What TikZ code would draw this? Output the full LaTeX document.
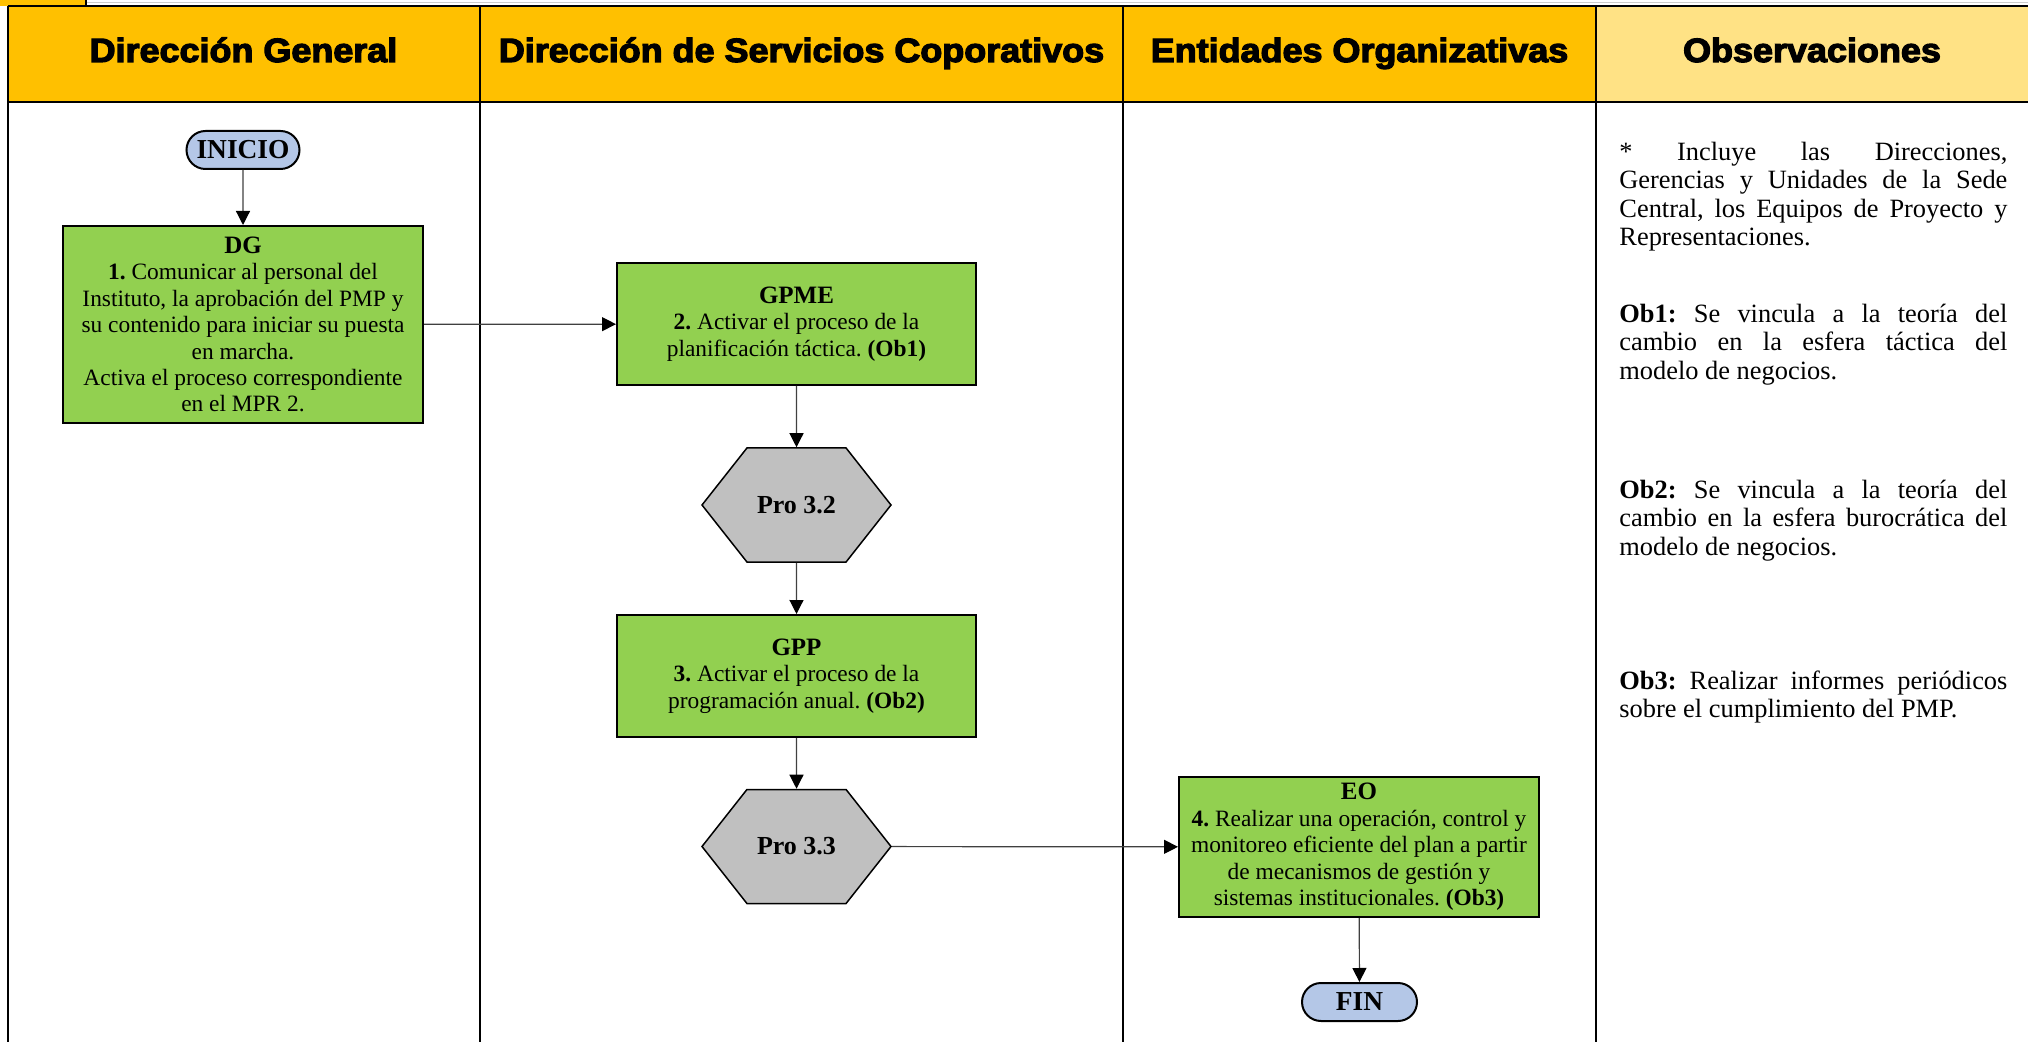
\documentclass[tikz,border=0pt]{standalone}
\usepackage{fontspec}
\setmainfont{Liberation Serif}
\newfontfamily\hdrfont{Liberation Sans}[BoldFeatures={FakeBold=3.5}]
\usetikzlibrary{arrows.meta,shapes.symbols,shapes.misc}
\definecolor{hdrgold}{HTML}{FFC000}
\definecolor{hdrpale}{HTML}{FFE285}
\definecolor{boxgreen}{HTML}{92D050}
\definecolor{pillblue}{HTML}{B4C7E7}
\definecolor{hexgray}{HTML}{C0C0C0}
\definecolor{linkgray}{HTML}{404040}
\frenchspacing
\begin{document}
\begin{tikzpicture}[x=0.5pt,y=-0.5pt,
 hdrtext/.style={font=\hdrfont\bfseries\fontsize{16.8}{20}\selectfont, inner sep=0pt, anchor=base},
 taskbox/.style={draw=black, line width=1pt, fill=boxgreen, align=center, font=\fontsize{11.7}{13.2}\selectfont, inner sep=2pt},
 pill/.style={rounded rectangle, draw=black, line width=1pt, fill=pillblue, font=\bfseries\fontsize{13.7}{15}\selectfont, minimum width=56.5pt, minimum height=19pt, inner sep=0pt},
 hexnode/.style={signal, signal to=east and west, signal pointer angle=103.5, draw=black, line width=0.75pt, fill=hexgray, minimum width=94.5pt, minimum height=57pt, font=\bfseries\fontsize{13}{15}\selectfont, inner sep=2pt},
 link/.style={draw=linkgray, line width=0.6pt, -{Triangle[length=7pt,width=7pt,color=black]}},
 obstext/.style={anchor=north west, inner sep=0pt, text width=194pt, align=justify, font=\fontsize{13.2}{14.25}\selectfont},
 tableline/.style={draw=black, line width=1pt}
]
\useasboundingbox (0,0) rectangle (2028,1042);
% header cells
\fill[hdrgold] (8,6) rectangle (1596,102);
\fill[hdrpale] (1596,6) rectangle (2028,102);
\fill[hdrgold] (0,0) rectangle (86,6);
\draw[gray!40, line width=0.5pt] (86,3) -- (2028,3);
\draw[black, line width=0.75pt] (86,0) -- (86,6);
% table lines
\draw[tableline] (8,6) -- (2028,6);
\draw[tableline] (8,6) -- (8,1042);
\draw[tableline, line width=1.3pt] (8,102) -- (2028,102);
\draw[tableline] (480,6) -- (480,1042);
\draw[tableline] (1123,6) -- (1123,1042);
\draw[tableline] (1596,6) -- (1596,1042);
% headers
\node[hdrtext] (h1) at (243.5,62) {\scalebox{1.07}[1]{Dirección General}};
\node[hdrtext] (h2) at (801.5,62) {\scalebox{1.07}[1]{Dirección de Servicios Coporativos}};
\node[hdrtext] (h3) at (1359.5,62) {\scalebox{1.07}[1]{Entidades Organizativas}};
\node[hdrtext] (h4) at (1812,62) {\scalebox{1.07}[1]{Observaciones}};
% flow nodes
\node[pill] (inicio) at (243,150) {INICIO};
\node[taskbox, minimum width=180pt, minimum height=98.5pt] (dg) at (243,324.5)
 {{\bfseries\fontsize{12.5}{13.2}\selectfont DG}\\
  \textbf{1.} Comunicar al personal del\\
  Instituto, la aprobación del PMP y\\
  su contenido para iniciar su puesta\\
  en marcha.\\
  Activa el proceso correspondiente\\
  en el MPR 2.};
\node[taskbox, minimum width=179.5pt, minimum height=61pt] (gpme) at (796.5,324)
 {{\bfseries\fontsize{12.5}{13.2}\selectfont GPME}\\
  \textbf{2.} Activar el proceso de la\\
  planificación táctica. \textbf{(Ob1)}};
\node[hexnode] (p32) at (796.5,505) {Pro 3.2};
\node[taskbox, minimum width=179.5pt, minimum height=61pt] (gpp) at (796.5,676)
 {{\bfseries\fontsize{12.5}{13.2}\selectfont GPP}\\
  \textbf{3.} Activar el proceso de la\\
  programación anual. \textbf{(Ob2)}};
\node[hexnode] (p33) at (796.5,846.5) {Pro 3.3};
\node[taskbox, minimum width=180pt, minimum height=70pt] (eo) at (1359,847)
 {{\bfseries\fontsize{12.5}{13.2}\selectfont EO}\\
  \textbf{4.} Realizar una operación, control y\\
  monitoreo eficiente del plan a partir\\
  de mecanismos de gestión y\\
  sistemas institucionales. \textbf{(Ob3)}};
\node[pill, minimum width=57.5pt] (fin) at (1359.5,1002) {FIN};
% connectors
\draw[link] (inicio) -- (dg);
\draw[link] (dg) -- (gpme);
\draw[link] (gpme) -- (p32);
\draw[link] (p32) -- (gpp);
\draw[link] (gpp) -- (p33);
\draw[link] (p33) -- (eo);
\draw[link] (eo) -- (fin);
% observations
\node[obstext] (o0) at (1619,140) {\strut * Incluye las Direcciones,\linebreak Gerencias y Unidades de la Sede\linebreak Central, los Equipos de Proyecto y\linebreak Representaciones.};
\node[obstext] (o1) at (1619,302) {\strut\textbf{Ob1:} Se vincula a la teoría del\linebreak cambio en la esfera táctica del\linebreak modelo de negocios.};
\node[obstext] (o2) at (1619,478) {\strut\textbf{Ob2:} Se vincula a la teoría del\linebreak cambio en la esfera burocrática del\linebreak modelo de negocios.};
\node[obstext] (o3) at (1619,669) {\strut\textbf{Ob3:} Realizar informes periódicos\linebreak sobre el cumplimiento del PMP.};
\end{tikzpicture}
\end{document}
